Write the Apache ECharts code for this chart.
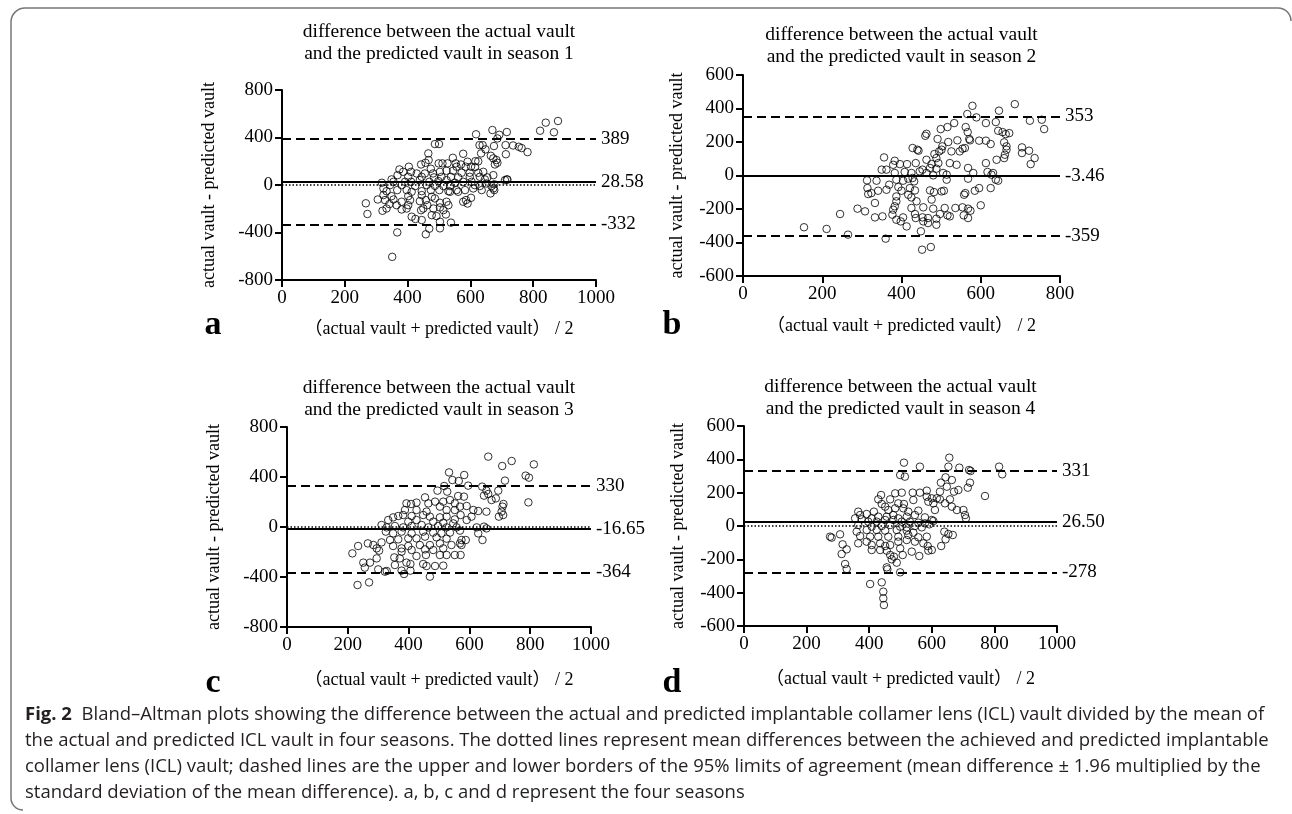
<!DOCTYPE html>
<html><head><meta charset="utf-8">
<script src="https://cdn.jsdelivr.net/npm/echarts@6.0.0/dist/echarts.min.js"></script>
<style>html,body{margin:0;padding:0;background:#fff}#c{width:1292px;height:814px}</style>
</head><body><div id="c"></div>
<script>
// ---- data ----
const season1 = [[267,-154],[272,-244],[367,-399],[351,-605],[822,457],[840,525],[866,444],[879,539],[670,463],[618,427],[716,446],[692,423],[782,277],[763,311],[754,322],[736,333],[712,336],[713,259],[716,48],[676,6],[487,345],[500,345],[503,-309],[538,-317],[458,-415],[469,-368],[503,-365],[425,-286],[445,-295],[413,-267],
[686,392],[629,336],[639,336],[675,328],[648,300],[634,266],[466,266],[577,263],[665,246],[673,224],[683,210],[544,229],[467,210],[457,187],[443,173],[499,182],[511,182],[527,182],[553,182],[570,173],[591,196],[616,201],[625,199],[678,173],[686,187],[615,151],[404,154],[474,137],[556,154],[585,154],[602,154],[374,131],[386,111],[411,111],[429,97],[455,97],[481,97],[503,111],[524,120],[545,120],[572,103],[598,103],[625,103],[641,111],[673,83],[368,83],[402,69],[445,69],[484,64],[508,69],[538,69],[561,64],[598,69],[630,69],[654,64],[318,19],[349,47],[355,27],[392,27],[411,27],[439,41],[469,27],[498,33],[524,41],[551,19],[577,27],[604,27],[646,47],[651,13],[710,41],[718,45],[344,-1],[381,-1],[424,-9],[461,-1],[487,-7],[514,-9],[535,-9],[614,-1],[630,-9],[667,-9],[673,-29],[323,-29],[333,-52],[367,-43],[397,-43],[413,-57],[445,-52],[474,-43],[501,-43],[530,-52],[556,-43],[583,-43],[609,-29],[636,-43],[664,-71],[676,-43],[323,-85],[349,-94],[402,-94],[445,-85],[477,-99],[535,-57],[561,-57],[305,-122],[328,-127],[355,-122],[381,-141],[408,-127],[439,-136],[458,-127],[487,-113],[503,-150],[524,-141],[577,-141],[586,-127],[602,-108],[591,-156],[342,-161],[365,-170],[402,-170],[463,-170],[450,-198],[503,-189],[320,-217],[333,-198],[381,-206],[397,-198],[443,-212],[482,-198],[514,-212],[530,-170],[477,-254],[492,-262],[522,-248]];

const season2 = [[579,416],[686,426],[646,387],[566,367],[589,347],[613,313],[638,319],[724,327],[533,313],[516,289],[499,277],[562,289],[567,259],[644,267],[655,259],[672,253],[663,247],[463,249],[460,237],[491,218],[541,210],[571,218],[573,210],[596,208],[613,208],[625,188],[659,198],[518,200],[503,174],[554,160],[560,164],[526,144],[547,144],[428,164],[440,154],[443,148],[704,168],[704,134],[722,148],[665,174],[665,154],[661,124],[659,104],[736,104],[726,68],[640,94],[613,74],[356,108],[383,88],[483,128],[488,104],[495,144],[501,154],[350,35],[362,35],[379,64],[396,68],[414,68],[436,74],[463,94],[476,68],[493,74],[522,74],[539,64],[568,45],[581,15],[617,21],[631,15],[383,15],[408,21],[425,15],[453,35],[472,45],[488,41],[505,15],[514,5],[446,25],[463,15],[480,1],[313,-29],[337,-31],[369,-55],[387,-25],[404,-31],[417,-19],[428,-15],[432,-35],[568,-19],[627,5],[638,-25],[644,-31],[514,-25],[314,-75],[341,-91],[362,-85],[392,-69],[400,-91],[421,-75],[434,-89],[472,-89],[482,-99],[501,-95],[507,-91],[596,-75],[585,-91],[625,-75],[558,-115],[561,-105],[316,-111],[324,-105],[387,-125],[417,-115],[425,-131],[438,-154],[476,-144],[387,-154],[383,-184],[333,-164],[289,-198],[308,-214],[245,-230],[379,-204],[377,-234],[404,-250],[425,-194],[455,-190],[480,-198],[509,-194],[536,-194],[554,-190],[568,-198],[574,-210],[600,-178],[333,-250],[352,-244],[387,-264],[413,-304],[436,-254],[453,-250],[467,-254],[488,-258],[434,-230],[488,-294],[516,-238],[522,-244],[557,-238],[568,-254],[455,-274],[467,-284],[398,-274],[497,-230],[154,-309],[211,-319],[265,-353],[360,-377],[449,-333],[452,-443],[474,-427],[754,333],[760,277]];

const season3 = [[662,563],[739,528],[708,488],[812,501],[533,437],[583,416],[544,376],[565,368],[596,331],[785,411],[796,395],[717,371],[517,328],[642,323],[656,291],[695,291],[495,291],[527,283],[563,248],[582,243],[454,237],[648,251],[662,264],[673,216],[687,229],[712,184],[709,163],[794,197],[706,123],[711,96],[697,83],[656,123],[629,128],[514,203],[487,203],[465,189],[426,195],[393,189],[408,184],[388,136],[426,136],[459,123],[503,163],[536,216],[552,189],[569,163],[591,168],[613,136],[607,83],[591,56],[552,136],[525,136],[349,77],[333,56],[311,16],[366,88],[382,96],[410,88],[448,96],[470,83],[503,77],[525,83],[552,61],[571,96],[426,56],[399,43],[481,43],[514,35],[547,29],[328,-3],[355,8],[382,-3],[410,8],[443,16],[465,-3],[497,8],[525,-3],[558,-3],[624,-3],[648,3],[656,-11],[325,-37],[349,-51],[377,-37],[410,-51],[448,-37],[481,-45],[508,-51],[536,-45],[569,-29],[629,-51],[339,-104],[366,-99],[399,-91],[426,-91],[454,-77],[492,-83],[525,-93],[574,-104],[643,-104],[588,-104],[569,-131],[574,-144],[311,-123],[284,-144],[266,-131],[295,-171],[303,-189],[234,-152],[215,-211],[349,-152],[377,-171],[399,-152],[437,-144],[470,-144],[503,-131],[514,-171],[541,-144],[377,-197],[410,-184],[454,-179],[481,-184],[503,-224],[525,-224],[552,-224],[571,-224],[457,-224],[295,-251],[353,-243],[371,-251],[426,-232],[251,-285],[273,-285],[256,-325],[300,-339],[328,-352],[355,-304],[393,-285],[406,-296],[448,-296],[459,-312],[487,-312],[514,-309],[377,-349],[385,-376],[406,-349],[322,-357],[470,-397],[232,-464],[270,-443]];

const season4 = [[656,410],[511,380],[562,356],[653,356],[688,350],[719,336],[724,330],[815,356],[825,310],[499,306],[514,296],[644,292],[664,276],[629,260],[722,260],[715,230],[648,236],[671,206],[685,216],[626,206],[584,212],[562,200],[539,200],[504,200],[483,196],[438,186],[429,160],[467,160],[493,136],[511,132],[541,156],[584,176],[600,166],[616,166],[589,146],[605,136],[626,160],[642,136],[658,160],[664,116],[680,96],[701,96],[706,66],[709,46],[770,180],[610,96],[557,92],[440,132],[451,116],[461,96],[483,106],[509,106],[525,86],[415,86],[365,86],[371,66],[392,72],[355,46],[376,40],[408,46],[429,56],[456,56],[477,66],[493,46],[520,56],[546,66],[578,52],[600,36],[397,26],[424,26],[451,36],[477,36],[504,26],[530,26],[557,20],[578,16],[592,10],[605,30],[365,6],[408,-4],[440,0],[467,6],[499,-4],[520,-8],[546,0],[568,-8],[360,-34],[392,-24],[424,-24],[451,-28],[488,-24],[520,-28],[541,-40],[640,-34],[653,-48],[667,-54],[275,-64],[280,-70],[307,-50],[371,-60],[403,-64],[429,-64],[461,-64],[493,-64],[525,-54],[557,-68],[584,-64],[644,-80],[365,-104],[392,-94],[408,-114],[435,-104],[451,-120],[467,-114],[493,-94],[520,-84],[546,-94],[573,-104],[587,-120],[600,-144],[630,-120],[315,-110],[328,-140],[312,-168],[408,-144],[435,-144],[456,-148],[499,-134],[536,-154],[560,-180],[589,-148],[467,-174],[479,-184],[507,-174],[472,-200],[488,-220],[323,-228],[328,-258],[456,-248],[458,-260],[499,-278],[403,-348],[440,-338],[445,-394],[445,-434],[447,-474]];

const meanDiff   = [28.58, -3.46, -16.65, 26.50];
const meanLabels = ['28.58', '-3.46', '-16.65', '26.50'];
const upperLoA   = [389, 353, 330, 331];
const lowerLoA   = [-332, -359, -364, -278];
const xMaxes     = [1000, 800, 1000, 1000];
const yLimits    = [800, 600, 800, 600];
const yIntervals = [400, 200, 400, 200];
const xInterval  = 200;
const seasonNames = ['season 1', 'season 2', 'season 3', 'season 4'];
const panelLetters = ['a', 'b', 'c', 'd'];
const yAxisName = 'actual vault - predicted vault';
const xAxisName = '（actual vault + predicted vault） / 2';
const captionLines = [
  '{b|Fig. 2}  Bland–Altman plots showing the difference between the actual and predicted implantable collamer lens (ICL) vault divided by the mean of',
  'the actual and predicted ICL vault in four seasons. The dotted lines represent mean differences between the achieved and predicted implantable',
  'collamer lens (ICL) vault; dashed lines are the upper and lower borders of the 95% limits of agreement (mean difference ± 1.96 multiplied by the',
  'standard deviation of the mean difference). a, b, c and d represent the four seasons'
];
const seriesData = [season1, season2, season3, season4];

// ---- layout ----
const SERIF = "'Liberation Serif','Times New Roman','Noto Sans CJK SC',serif";
const SANS = "'Open Sans','Noto Sans',sans-serif";
const grids = [
  {left: 282, top: 90, width: 314, height: 190},
  {left: 743, top: 75, width: 317, height: 201},
  {left: 287, top: 427, width: 304, height: 200},
  {left: 744, top: 426, width: 313, height: 200}
];
const titleY = [32, 35, 388, 387];
const letterPos = [[213, 325], [672, 325], [213, 683], [672, 683]];
const yNameGap = [64, 57, 64, 57];
const xNameGap = [40, 41, 44, 44];

const xAxes = [], yAxes = [], series = [], graphics = [];
for (let i = 0; i < 4; i++) {
  xAxes.push({
    gridIndex: i, type: 'value', min: 0, max: xMaxes[i], interval: xInterval,
    axisLine: {show: true, onZero: false, lineStyle: {color: '#000', width: 2}},
    axisTick: {show: true, length: 7, lineStyle: {color: '#000', width: 2}},
    axisLabel: {color: '#000', fontFamily: SERIF, fontSize: 19, margin: 9, formatter: v => String(v)},
    splitLine: {show: false},
    name: xAxisName, nameLocation: 'middle', nameGap: xNameGap[i],
    nameTextStyle: {color: '#000', fontFamily: SERIF, fontSize: 18}
  });
  yAxes.push({
    gridIndex: i, type: 'value', min: -yLimits[i], max: yLimits[i], interval: yIntervals[i],
    axisLine: {show: true, onZero: false, lineStyle: {color: '#000', width: 2}},
    axisTick: {show: true, length: 7, lineStyle: {color: '#000', width: 2}},
    axisLabel: {color: '#000', fontFamily: SERIF, fontSize: 19, margin: 9, formatter: v => String(v)},
    splitLine: {show: false},
    name: yAxisName, nameLocation: 'middle', nameRotate: 90, nameGap: yNameGap[i],
    nameTextStyle: {color: '#000', fontFamily: SERIF, fontSize: 18}
  });
  const dash = {type: [9, 5], width: 2, color: '#000'};
  series.push({
    type: 'scatter', xAxisIndex: i, yAxisIndex: i, data: seriesData[i],
    symbol: 'circle', symbolSize: 7.5,
    itemStyle: {color: 'rgba(0,0,0,0)', borderColor: '#000', borderWidth: 1},
    silent: true,
    markLine: {
      silent: true, symbol: ['none', 'none'], animation: false,
      label: {show: true, position: 'end', formatter: '{b}', color: '#000', fontFamily: SERIF, fontSize: 19, distance: 5},
      data: [
        {name: meanLabels[i], yAxis: meanDiff[i], lineStyle: {type: 'solid', width: 2, color: '#000'}},
        {name: '', yAxis: 0, lineStyle: {type: [1.5, 2], width: 1.5, color: '#000'}, label: {show: false}},
        {name: String(upperLoA[i]), yAxis: upperLoA[i], lineStyle: dash},
        {name: String(lowerLoA[i]), yAxis: lowerLoA[i], lineStyle: dash}
      ]
    }
  });
  const cx = grids[i].left + grids[i].width / 2;
  graphics.push({type: 'text', x: cx, y: titleY[i], style: {text: 'difference between the actual vault', textAlign: 'center', textVerticalAlign: 'middle', font: '19.5px ' + SERIF, fill: '#000'}});
  graphics.push({type: 'text', x: cx, y: titleY[i] + 22, style: {text: 'and the predicted vault in ' + seasonNames[i], textAlign: 'center', textVerticalAlign: 'middle', font: '19.5px ' + SERIF, fill: '#000'}});
  graphics.push({type: 'text', x: letterPos[i][0], y: letterPos[i][1], style: {text: panelLetters[i], textAlign: 'center', textVerticalAlign: 'middle', font: 'bold 34px ' + SERIF, fill: '#000'}});
}
// frame (left and top edges with rounded corners)
const frameStyle = {fill: 'none', stroke: '#777', lineWidth: 1.5};
graphics.push({type: 'polyline', shape: {points: [[11, 798], [11, 22]]}, style: frameStyle});
graphics.push({type: 'polyline', shape: {points: [[25, 8], [1278, 8]]}, style: frameStyle});
graphics.push({type: 'arc', shape: {cx: 25, cy: 22, r: 14, startAngle: Math.PI, endAngle: Math.PI * 1.5}, style: frameStyle});
graphics.push({type: 'arc', shape: {cx: 1278, cy: 21, r: 13, startAngle: Math.PI * 1.5, endAngle: Math.PI * 2}, style: frameStyle});
graphics.push({type: 'arc', shape: {cx: 23, cy: 798, r: 12, startAngle: Math.PI * 0.5, endAngle: Math.PI}, style: frameStyle});
captionLines.forEach((t, k) => {
  graphics.push({type: 'text', x: 25, y: 715 + k * 26, style: {text: t, textVerticalAlign: 'middle', font: '18.5px ' + SANS, fill: '#231f20', rich: {b: {fontWeight: 'bold', fontSize: 18.5, fontFamily: SANS, fill: '#231f20'}}}});
});

const chart = echarts.init(document.getElementById('c'), null, {renderer: 'canvas'});
chart.setOption({
  animation: false,
  backgroundColor: '#fff',
  grid: grids,
  xAxis: xAxes,
  yAxis: yAxes,
  series: series,
  graphic: graphics
});
</script>
</body></html>
